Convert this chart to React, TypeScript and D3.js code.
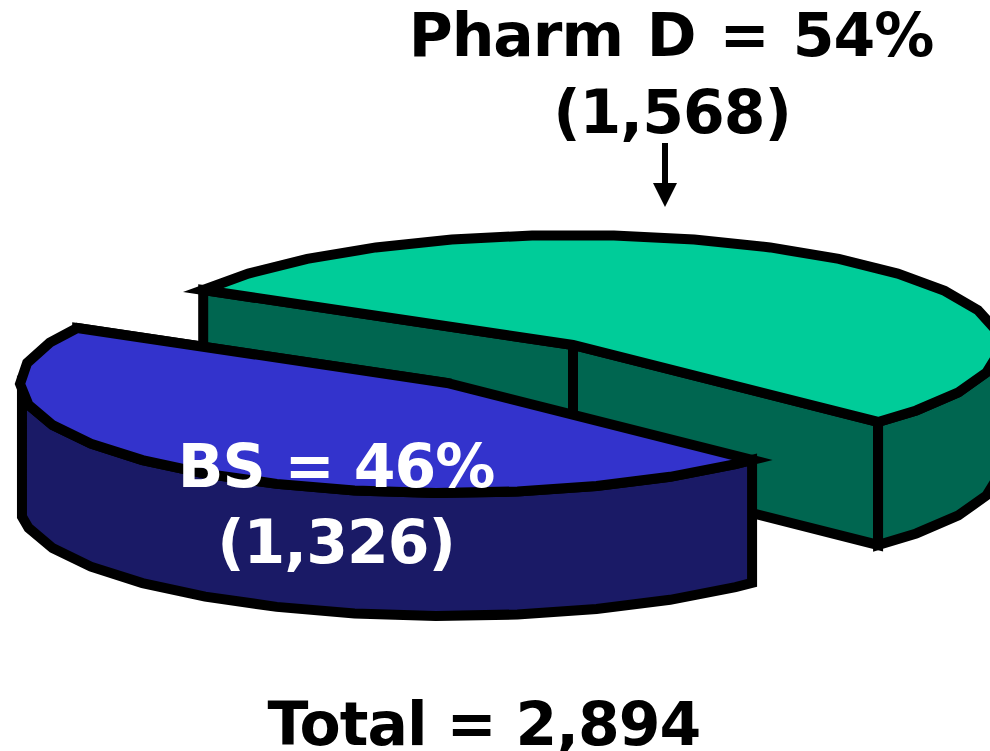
import React from "react";
import * as d3 from "d3";

const categories = ["Pharm D", "BS"];
const counts = [1568, 1326];
const percents = [54, 46];
const topColors = ["#00CC99", "#3333CC"];
const wallColors = ["#006650", "#1A1A66"];
const totalName = "Total";
const totalValue = "2,894";

const W = 990, H = 751;
const RX = 427, RY = 110, DEPTH = 123;
const START = (-60 * Math.PI) / 180;
const centers = [{ x: 573, y: 345 }, { x: 447, y: 383 }];
const STROKE = 10;
const FONT = "'DejaVu Sans', sans-serif";
const RAD = Math.PI / 180;
const STEP = 11 * RAD;
const HALF = STEP / 2;

type C = { x: number; y: number };
type P = [number, number];
const line = d3.line<P>();
const pt = (c: C, a: number, dy = 0): P => [
  c.x + RX * Math.sin(a),
  c.y - RY * Math.cos(a) + dy,
];
// faceted outline: vertices on a fixed angular grid, plus the two end angles
const arcPts = (c: C, a0: number, a1: number, dy = 0): P[] => {
  const lo = Math.min(a0, a1), hi = Math.max(a0, a1);
  const first = Math.ceil((lo - HALF) / STEP + 1e-6);
  const last = Math.floor((hi - HALF) / STEP - 1e-6);
  const mids = first <= last ? d3.range(first, last + 1).map((k) => k * STEP + HALF) : [];
  const angles = [lo, ...mids, hi];
  if (a0 > a1) angles.reverse();
  return angles.map((a) => pt(c, a, dy));
};

export default function App() {
  const arcs = d3
    .pie<number>()
    .sort(null)
    .startAngle(START)
    .endAngle(START + 2 * Math.PI)(percents);

  const slice = (i: number) => {
    const c = centers[i];
    const { startAngle: a0, endAngle: a1 } = arcs[i];
    const hp = Math.PI / 2, lo = (3 * Math.PI) / 2;
    const r0 = Math.max(a0, hp);
    const r1 = Math.min(a1, lo - HALF);
    const rim = [...arcPts(c, r0, r1), ...arcPts(c, r1, r0, DEPTH)];
    const faceA: P[] = [pt(c, a0), [c.x, c.y], [c.x, c.y + DEPTH], pt(c, a0, DEPTH)];
    const faceB: P[] = [pt(c, a1), [c.x, c.y], [c.x, c.y + DEPTH], pt(c, a1, DEPTH)];
    const top: P[] = [...arcPts(c, a0, a1), [c.x, c.y]];
    const common = {
      stroke: "#000",
      strokeWidth: STROKE,
      strokeLinejoin: "miter" as const,
      strokeMiterlimit: 14,
    };
    return (
      <g key={categories[i]}>
        {i === 0 && <path d={line(faceA) + "Z"} fill={wallColors[i]} {...common} />}
        <path d={line(faceB) + "Z"} fill={wallColors[i]} {...common} />
        <path d={line(rim) + "Z"} fill={wallColors[i]} {...common} />
        <path d={line(top) + "Z"} fill={topColors[i]} {...common} />
      </g>
    );
  };

  const textStyle = {
    fontFamily: FONT,
    fontWeight: 700,
    fontSize: 60,
    textAnchor: "middle" as const,
    letterSpacing: -1,
  };
  const count = d3.format(",");

  return (
    <svg
      width={W}
      height={H}
      viewBox={`0 0 ${W} ${H}`}
      style={{ position: "absolute", left: 0, top: 0, display: "block" }}
    >
      {slice(0)}
      {slice(1)}
      <line x1={665} x2={665} y1={143} y2={186} stroke="#000" strokeWidth={6} />
      <path d={d3.line()([[653, 183], [677, 183], [665, 207]]) + "Z"} fill="#000" />
      <text x={671} y={56} {...textStyle} wordSpacing={4}>{`${categories[0]} = ${percents[0]}%`}</text>
      <text x={672} y={133} {...textStyle}>{`(${count(counts[0])})`}</text>
      <text x={336} y={487} {...textStyle} fill="#fff">{`${categories[1]} = ${percents[1]}%`}</text>
      <text x={336} y={563} {...textStyle} fill="#fff">{`(${count(counts[1])})`}</text>
      <text x={484} y={745} {...textStyle}>{`${totalName} = ${totalValue}`}</text>
    </svg>
  );
}
